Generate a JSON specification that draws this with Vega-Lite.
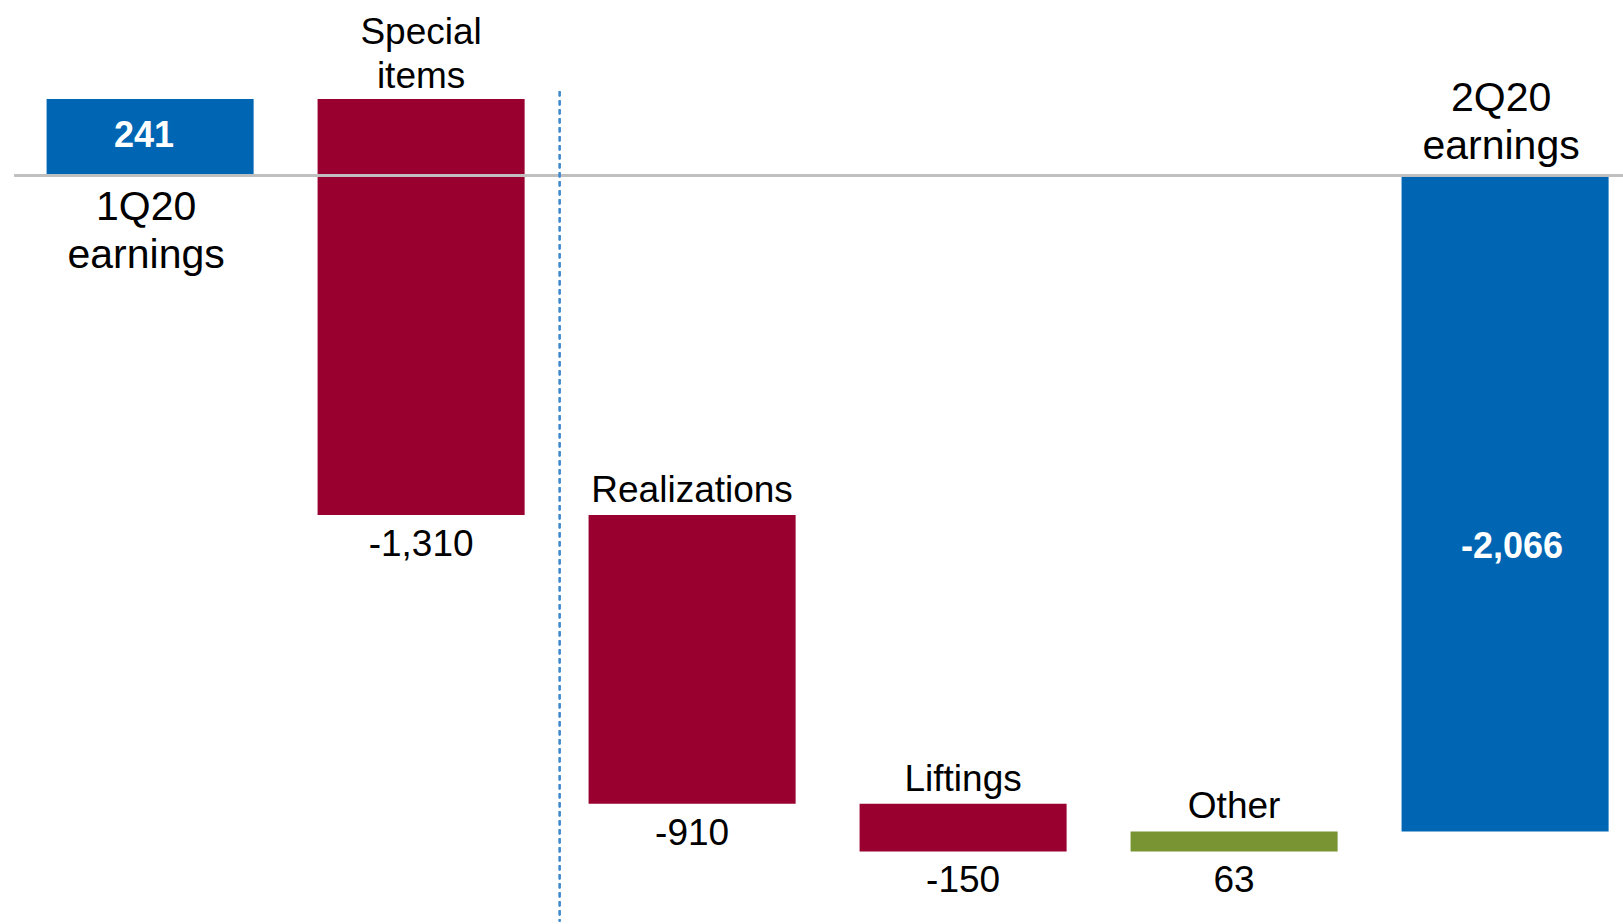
{
  "$schema": "https://vega.github.io/schema/vega-lite/v6.json",
  "width": 1623,
  "height": 924,
  "autosize": {"type": "none"},
  "padding": 0,
  "background": "white",
  "config": {"view": {"stroke": null}, "text": {"font": "Liberation Sans"}},
  "data": {
    "values": [
      {"name": "1Q20 earnings", "title": "1Q20\nearnings", "low": 0, "high": 241, "kind": "total", "label": "241"},
      {"name": "Special items", "title": "Special\nitems", "low": -1069, "high": 241, "kind": "decrease", "label": "-1,310"},
      {"name": "Realizations", "title": "Realizations", "low": -1979, "high": -1069, "kind": "decrease", "label": "-910"},
      {"name": "Liftings", "title": "Liftings", "low": -2129, "high": -1979, "kind": "decrease", "label": "-150"},
      {"name": "Other", "title": "Other", "low": -2129, "high": -2066, "kind": "increase", "label": "63"},
      {"name": "2Q20 earnings", "title": "2Q20\nearnings", "low": -2066, "high": 0, "kind": "total", "label": "-2,066"}
    ]
  },
  "encoding": {
    "x": {
      "field": "name", "type": "nominal", "sort": null, "axis": null,
      "scale": {"paddingInner": 0.236, "paddingOuter": 0.1125, "align": 0.764}
    }
  },
  "layer": [
    {
      "mark": {"type": "bar"},
      "encoding": {
        "y": {"field": "low", "type": "quantitative", "axis": null, "scale": {"domain": [-2357.5, 552.8], "nice": false, "zero": false}},
        "y2": {"field": "high"},
        "color": {"field": "kind", "type": "nominal", "legend": null,
          "scale": {"domain": ["total", "decrease", "increase"], "range": ["#0066B3", "#990030", "#789433"]}}
      }
    },
    {
      "mark": {"type": "rule", "color": "#BFBFBF", "strokeWidth": 2},
      "encoding": {
        "x": {"datum": "1Q20 earnings", "bandPosition": -0.155},
        "x2": {"value": 1623},
        "y": {"datum": 0, "type": "quantitative"}
      }
    },
    {
      "mark": {"type": "rule", "color": "#3F88CC", "strokeWidth": 1.5, "strokeDash": [5, 4]},
      "encoding": {
        "x": {"datum": "Realizations", "bandPosition": -0.14},
        "y": {"datum": 265, "type": "quantitative"},
        "y2": {"datum": -2350}
      }
    },
    {
      "transform": [{"filter": "datum.kind !== 'total' && datum.name !== 'Special items'"}],
      "mark": {"type": "text", "fontSize": 37, "baseline": "bottom", "dy": -5, "color": "black"},
      "encoding": {"y": {"field": "high", "type": "quantitative"}, "text": {"field": "title"}}
    },
    {
      "transform": [{"filter": "datum.name === 'Special items'"}],
      "mark": {"type": "text", "fontSize": 37, "baseline": "bottom", "dy": -47, "lineBreak": "\n", "lineHeight": 44, "color": "black"},
      "encoding": {"y": {"field": "high", "type": "quantitative"}, "text": {"field": "title"}}
    },
    {
      "transform": [{"filter": "datum.kind !== 'total'"}],
      "mark": {"type": "text", "fontSize": 37, "baseline": "top", "dy": 12, "color": "black"},
      "encoding": {"y": {"field": "low", "type": "quantitative"}, "text": {"field": "label"}}
    },
    {
      "transform": [{"filter": "datum.name === '1Q20 earnings'"}],
      "mark": {"type": "text", "fontSize": 41, "baseline": "top", "dy": 12, "dx": -4, "lineBreak": "\n", "lineHeight": 48, "color": "black"},
      "encoding": {"y": {"field": "low", "type": "quantitative"}, "text": {"field": "title"}}
    },
    {
      "transform": [{"filter": "datum.name === '2Q20 earnings'"}],
      "mark": {"type": "text", "fontSize": 41, "baseline": "bottom", "dy": -56, "dx": -4, "lineBreak": "\n", "lineHeight": 48, "color": "black"},
      "encoding": {"y": {"field": "high", "type": "quantitative"}, "text": {"field": "title"}}
    },
    {
      "transform": [{"filter": "datum.name === '1Q20 earnings'"}],
      "mark": {"type": "text", "fontSize": 36, "fontWeight": "bold", "baseline": "top", "dy": 20, "dx": -6, "color": "white"},
      "encoding": {"y": {"field": "high", "type": "quantitative"}, "text": {"field": "label"}}
    },
    {
      "transform": [{"filter": "datum.name === '2Q20 earnings'"}],
      "mark": {"type": "text", "fontSize": 36, "fontWeight": "bold", "baseline": "bottom", "dy": -265, "dx": 7, "color": "white"},
      "encoding": {"y": {"field": "low", "type": "quantitative"}, "text": {"field": "label"}}
    }
  ]
}
